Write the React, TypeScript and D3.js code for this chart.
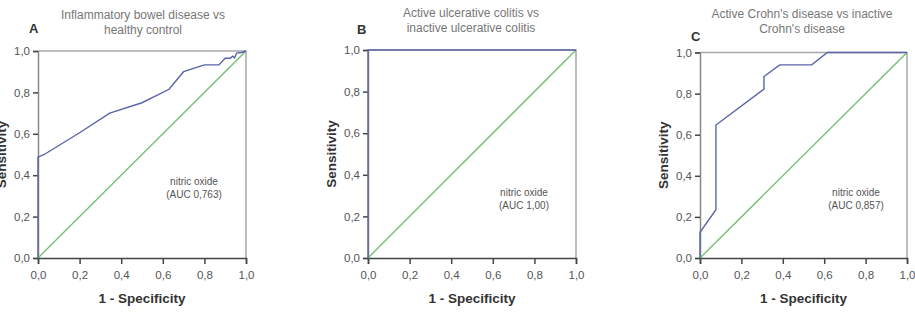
import React, { useEffect, useRef } from 'react';
import * as d3 from 'd3';

// ROC curves: [1 - specificity, sensitivity]
const rocIbd: [number, number][] = [
  [0, 0], [0, 0.487], [0.03, 0.5], [0.2, 0.605], [0.345, 0.7], [0.5, 0.75],
  [0.63, 0.815], [0.7, 0.9], [0.8, 0.933], [0.87, 0.933], [0.9, 0.965],
  [0.925, 0.965], [0.935, 0.975], [0.945, 0.967], [0.955, 0.99], [0.98, 0.993], [1, 1],
];
const rocUc: [number, number][] = [[0, 0], [0, 1], [1, 1]];
const rocCd: [number, number][] = [
  [0, 0], [0, 0.125], [0.077, 0.235], [0.077, 0.647], [0.309, 0.822],
  [0.309, 0.883], [0.385, 0.94], [0.54, 0.94], [0.615, 1], [1, 1],
];
const reference: [number, number][] = [[0, 0], [1, 1]];

const ticks = [0, 0.2, 0.4, 0.6, 0.8, 1.0];
const tickLabel = (v: number) => v.toFixed(1).replace('.', ',');

const panels = [
  {
    letter: 'A', title: ['Inflammatory bowel disease vs', 'healthy control'], curve: rocIbd,
    auc: '(AUC 0,763)', left: 38, top: 51, right: 246, titleX: 143, titleY: 19,
    letterX: 29, letterY: 33, noteY: 185,
  },
  {
    letter: 'B', title: ['Active ulcerative colitis vs', 'inactive ulcerative colitis'], curve: rocUc,
    auc: '(AUC 1,00)', left: 368, top: 50, right: 576, titleX: 471, titleY: 17,
    letterX: 357, letterY: 34, noteY: 196,
  },
  {
    letter: 'C', title: ["Active Crohn's disease vs inactive", "Crohn's disease"], curve: rocCd,
    auc: '(AUC 0,857)', left: 700, top: 52.5, right: 907, titleX: 802, titleY: 18,
    letterX: 691, letterY: 41, noteY: 196,
  },
];

const bottom = 258;
const W = 915;
const H = 316;

export default function App() {
  const svgRef = useRef<SVGSVGElement>(null);

  useEffect(() => {
    if (!svgRef.current) return;
    const svg = d3.select(svgRef.current);
    svg.selectAll('*').remove();

    panels.forEach(p => {
      const x = d3.scaleLinear().domain([0, 1]).range([p.left, p.right]);
      const y = d3.scaleLinear().domain([0, 1]).range([bottom, p.top]);
      const g = svg.append('g');

      // light frame top/right
      g.append('path')
        .attr('d', `M${p.left},${p.top}H${p.right}V${bottom}`)
        .attr('fill', 'none')
        .attr('stroke', '#a8a8a8')
        .attr('stroke-width', 1.5);

      // axes
      const yAxis = g.append('g')
        .attr('transform', `translate(${p.left},0)`)
        .call(d3.axisLeft(y).tickValues(ticks).tickFormat(d => tickLabel(+d)).tickSize(5).tickPadding(3));
      yAxis.select('.domain').attr('stroke', '#888').attr('stroke-width', 1.5);
      yAxis.selectAll('.tick line').attr('stroke', '#444').attr('stroke-width', 1.5);

      const xAxis = g.append('g')
        .attr('transform', `translate(0,${bottom})`)
        .call(d3.axisBottom(x).tickValues(ticks).tickFormat(d => tickLabel(+d)).tickSize(6).tickPadding(7));
      xAxis.select('.domain').attr('stroke', '#444').attr('stroke-width', 1.5);
      xAxis.selectAll('.tick line').attr('stroke', '#444').attr('stroke-width', 1.5);

      g.selectAll('.tick text')
        .attr('fill', '#555')
        .attr('font-family', 'Liberation Sans, Arial, sans-serif')
        .attr('font-size', 11.5);

      const line = d3.line<[number, number]>().x(d => x(d[0])).y(d => y(d[1]));

      g.append('path')
        .attr('d', line(reference))
        .attr('fill', 'none')
        .attr('stroke', '#6cbf6a')
        .attr('stroke-width', 1.3);

      g.append('path')
        .attr('d', line(p.curve))
        .attr('fill', 'none')
        .attr('stroke', '#5b64a6')
        .attr('stroke-width', 1.4);

      // titles
      const t = g.append('text')
        .attr('text-anchor', 'middle')
        .attr('font-family', 'Liberation Sans, Arial, sans-serif')
        .attr('font-size', 12)
        .attr('fill', '#777');
      p.title.forEach((s, i) => {
        t.append('tspan').attr('x', p.titleX).attr('y', p.titleY + i * 15).text(s);
      });

      g.append('text')
        .attr('x', p.letterX)
        .attr('y', p.letterY)
        .attr('font-family', 'Liberation Sans, Arial, sans-serif')
        .attr('font-size', 13)
        .attr('font-weight', 'bold')
        .attr('fill', '#333')
        .text(p.letter);

      // annotation
      const note = g.append('text')
        .attr('text-anchor', 'middle')
        .attr('font-family', 'Liberation Sans, Arial, sans-serif')
        .attr('font-size', 10)
        .attr('fill', '#555');
      ['nitric oxide', p.auc].forEach((s, i) => {
        note.append('tspan').attr('x', p.left + 156).attr('y', p.noteY + i * 13).text(s);
      });

      // axis labels
      g.append('text')
        .attr('x', (p.left + p.right) / 2)
        .attr('y', 303)
        .attr('text-anchor', 'middle')
        .attr('font-family', 'Liberation Sans, Arial, sans-serif')
        .attr('font-size', 13.5)
        .attr('font-weight', 'bold')
        .attr('fill', '#333')
        .text('1 - Specificity');

      g.append('text')
        .attr('transform', `translate(${p.left - 32},${(p.top + bottom) / 2}) rotate(-90)`)
        .attr('text-anchor', 'middle')
        .attr('font-family', 'Liberation Sans, Arial, sans-serif')
        .attr('font-size', 13.5)
        .attr('font-weight', 'bold')
        .attr('fill', '#333')
        .text('Sensitivity');
    });
  }, []);

  return (
    <div style={{ position: 'absolute', left: 0, top: 0, width: W, height: H, background: '#fff' }}>
      <svg ref={svgRef} width={W} height={H} style={{ display: 'block' }} />
    </div>
  );
}
